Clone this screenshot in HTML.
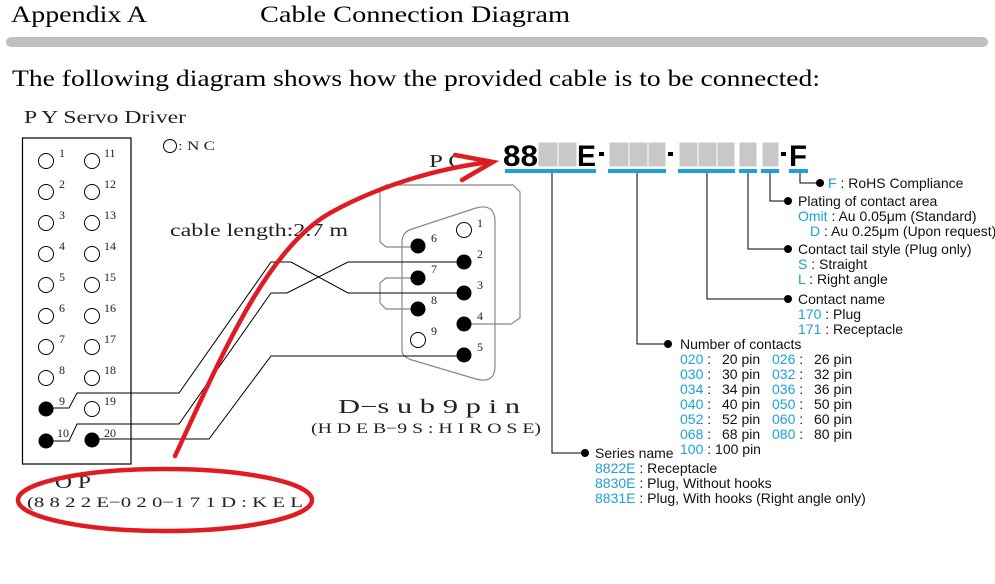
<!DOCTYPE html>
<html><head><meta charset="utf-8"><style>
html,body{margin:0;padding:0;background:#fff;}
svg{display:block;}
.s{font-family:"Liberation Sans",sans-serif;font-size:14px;fill:#111;}
.b{fill:#1ea0da;}
.m{font-family:"Liberation Serif","Noto Serif CJK SC",serif;fill:#222;}
</style></head><body>
<svg width="995" height="584" viewBox="0 0 995 584" xmlns="http://www.w3.org/2000/svg">
<text x="11" y="22" font-family="Liberation Serif,serif" font-size="23" textLength="136" lengthAdjust="spacingAndGlyphs">Appendix A</text>
<text x="260" y="22" font-family="Liberation Serif,serif" font-size="23" textLength="310" lengthAdjust="spacingAndGlyphs">Cable Connection Diagram</text>
<rect x="6" y="37" width="982" height="10" rx="5" fill="#c0c0c0"/>
<text x="12" y="86" font-family="Liberation Serif,serif" font-size="23" textLength="808" lengthAdjust="spacingAndGlyphs">The following diagram shows how the provided cable is to be connected:</text>

<text x="24" y="123" class="m" font-size="18" textLength="162" lengthAdjust="spacingAndGlyphs">P Y  Servo Driver</text>
<rect x="22.5" y="138" width="108.5" height="326" fill="none" stroke="#000" stroke-width="1.2"/>
<g fill="none" stroke="#000" stroke-width="1">
<circle cx="46" cy="161" r="7.5"/><circle cx="92" cy="161" r="7.5"/>
<circle cx="46" cy="192" r="7.5"/><circle cx="92" cy="192" r="7.5"/>
<circle cx="46" cy="223" r="7.5"/><circle cx="92" cy="223" r="7.5"/>
<circle cx="46" cy="254" r="7.5"/><circle cx="92" cy="254" r="7.5"/>
<circle cx="46" cy="285" r="7.5"/><circle cx="92" cy="285" r="7.5"/>
<circle cx="46" cy="316" r="7.5"/><circle cx="92" cy="316" r="7.5"/>
<circle cx="46" cy="347" r="7.5"/><circle cx="92" cy="347" r="7.5"/>
<circle cx="46" cy="378" r="7.5"/><circle cx="92" cy="378" r="7.5"/>
<circle cx="92" cy="409" r="7.5"/>
<circle cx="170" cy="146" r="6.5"/>
</g>
<g fill="#000"><circle cx="46" cy="409" r="7.5"/><circle cx="46" cy="441" r="7.5"/><circle cx="92" cy="440" r="7.5"/></g>
<g class="m" font-size="12">
<text x="59" y="157">1</text><text x="104" y="157">11</text>
<text x="59" y="188">2</text><text x="104" y="188">12</text>
<text x="59" y="219">3</text><text x="104" y="219">13</text>
<text x="59" y="250">4</text><text x="104" y="250">14</text>
<text x="59" y="281">5</text><text x="104" y="281">15</text>
<text x="59" y="312">6</text><text x="104" y="312">16</text>
<text x="59" y="343">7</text><text x="104" y="343">17</text>
<text x="59" y="374">8</text><text x="104" y="374">18</text>
<text x="59" y="405">9</text><text x="104" y="405">19</text>
<text x="57" y="437">10</text><text x="104" y="437">20</text>
</g>
<text x="178" y="150" class="m" font-size="13" textLength="37" lengthAdjust="spacingAndGlyphs">: N C</text>
<text x="170" y="236" class="m" font-size="18" textLength="178" lengthAdjust="spacingAndGlyphs">cable length:2.7 m</text>

<g fill="none" stroke="#888" stroke-width="1.2">
<polyline points="418,247 386,247 380,242 380,190 386,185 513,185 520,192 520,318 511,324 464,324"/>
<polyline points="418,278 386,278 380,283 380,303 386,309 418,309"/>
<path d="M402,350 L402,242 Q402,232 412,229 L476,208 Q495,203 495,222 L495,366 Q495,384 476,379 L412,360 Q402,357 402,350 Z"/>
</g>
<g fill="none" stroke="#000" stroke-width="1">
<polyline points="46,408 69,408 77,393 179,393 271,262 291,262 348,293 464,293"/>
<polyline points="46,441 69,441 77,424 179,424 271,293 287,293 348,262 464,262"/>
<polyline points="92,439 209,439 271,356 464,356"/>
<circle cx="464" cy="230" r="7.5"/><circle cx="418" cy="340" r="7.5"/>
</g>
<g fill="#000">
<circle cx="418" cy="246" r="7.5"/><circle cx="464" cy="262" r="7.5"/><circle cx="418" cy="278" r="7.5"/>
<circle cx="464" cy="293" r="7.5"/><circle cx="418" cy="309" r="7.5"/><circle cx="464" cy="324" r="7.5"/>
<circle cx="464" cy="355" r="7.5"/>
</g>
<g class="m" font-size="12">
<text x="431" y="242">6</text><text x="477" y="227">1</text><text x="477" y="258">2</text>
<text x="431" y="273">7</text><text x="477" y="289">3</text><text x="431" y="304">8</text>
<text x="477" y="320">4</text><text x="431" y="335">9</text><text x="477" y="351">5</text>
</g>
<text x="338" y="413" class="m" font-size="20" textLength="182" lengthAdjust="spacingAndGlyphs">D−s u b  9 p i n</text>
<text x="311" y="433" class="m" font-size="15" textLength="230" lengthAdjust="spacingAndGlyphs">(H D E B−9 S : H I R O S E)</text>
<text x="429" y="167" class="m" font-size="18" textLength="36" lengthAdjust="spacingAndGlyphs">P C</text>

<text x="55" y="488" class="m" font-size="18" textLength="36" lengthAdjust="spacingAndGlyphs">O P</text>
<text x="27" y="507" class="m" font-size="15" textLength="276" lengthAdjust="spacingAndGlyphs">(8 8 2 2 E−0 2 0−1 7 1 D : K E L</text>

<g fill="none" stroke="#e01c22" stroke-width="4.5" stroke-linecap="round">
<ellipse cx="165" cy="500" rx="147" ry="31"/>
<path d="M175,456 C220,360 265,250 330,213 C380,185 440,168 490,162"/>
<polyline points="455,155 493,162 462,180"/>
</g>

<text x="503" y="166" font-family="Liberation Sans,sans-serif" font-weight="bold" font-size="30" textLength="35" lengthAdjust="spacingAndGlyphs">88</text>
<g fill="#c8c8c8" stroke="#fff" stroke-width="1">
<rect x="538" y="142" width="20" height="25"/><rect x="558" y="142" width="19" height="25"/>
<rect x="609" y="142" width="20" height="25"/><rect x="629" y="142" width="19" height="25"/><rect x="648" y="142" width="18" height="25"/>
<rect x="679" y="142" width="19" height="25"/><rect x="698" y="142" width="19" height="25"/><rect x="717" y="142" width="18" height="25"/>
<rect x="739" y="142" width="18" height="25"/><rect x="762" y="142" width="17" height="25"/>
</g>
<text x="577" y="166" font-family="Liberation Sans,sans-serif" font-weight="bold" font-size="30" textLength="19" lengthAdjust="spacingAndGlyphs">E</text>
<text x="789" y="166" font-family="Liberation Sans,sans-serif" font-weight="bold" font-size="30" textLength="18" lengthAdjust="spacingAndGlyphs">F</text>
<g fill="#000"><rect x="599" y="152" width="5" height="4"/><rect x="668" y="152" width="5" height="4"/><rect x="781" y="152" width="5" height="4"/></g>
<g fill="#1ea0da">
<rect x="505" y="169" width="91" height="4"/><rect x="608" y="169" width="58" height="4"/><rect x="678" y="169" width="57" height="4"/>
<rect x="739" y="169" width="18" height="4"/><rect x="761" y="169" width="18" height="4"/><rect x="789" y="169" width="19" height="4"/>
</g>
<g fill="none" stroke="#000" stroke-width="1">
<polyline points="800,173 800,183 820,183"/>
<polyline points="770,173 770,201 788,201"/>
<polyline points="748,173 748,249 788,249"/>
<polyline points="707,173 707,299 788,299"/>
<polyline points="637,173 637,344 668,344"/>
<polyline points="552,173 552,453 585,453"/>
</g>
<g fill="#000">
<circle cx="820" cy="183" r="4"/><circle cx="788" cy="201" r="4"/><circle cx="788" cy="249" r="4"/>
<circle cx="788" cy="299" r="4"/><circle cx="668" cy="344" r="4"/><circle cx="585" cy="453" r="4"/>
</g>
<g class="s">
<text x="828" y="188"><tspan class="b">F</tspan> : RoHS Compliance</text>
<text x="798" y="206">Plating of contact area</text>
<text x="798" y="221"><tspan class="b">Omit</tspan> : Au 0.05μm (Standard)</text>
<text x="810" y="236"><tspan class="b">D</tspan>   : Au 0.25μm (Upon request)</text>
<text x="798" y="254">Contact tail style (Plug only)</text>
<text x="798" y="269"><tspan class="b">S</tspan> : Straight</text>
<text x="798" y="284"><tspan class="b">L</tspan> : Right angle</text>
<text x="798" y="304">Contact name</text>
<text x="798" y="319"><tspan class="b">170</tspan> : Plug</text>
<text x="798" y="334"><tspan class="b">171</tspan> : Receptacle</text>
<text x="680" y="349">Number of contacts</text>
<text x="680" y="364"><tspan class="b">020</tspan> :</text><text x="722" y="364">20 pin</text><text x="772" y="364"><tspan class="b">026</tspan> :</text><text x="814" y="364">26 pin</text>
<text x="680" y="379"><tspan class="b">030</tspan> :</text><text x="722" y="379">30 pin</text><text x="772" y="379"><tspan class="b">032</tspan> :</text><text x="814" y="379">32 pin</text>
<text x="680" y="394"><tspan class="b">034</tspan> :</text><text x="722" y="394">34 pin</text><text x="772" y="394"><tspan class="b">036</tspan> :</text><text x="814" y="394">36 pin</text>
<text x="680" y="409"><tspan class="b">040</tspan> :</text><text x="722" y="409">40 pin</text><text x="772" y="409"><tspan class="b">050</tspan> :</text><text x="814" y="409">50 pin</text>
<text x="680" y="424"><tspan class="b">052</tspan> :</text><text x="722" y="424">52 pin</text><text x="772" y="424"><tspan class="b">060</tspan> :</text><text x="814" y="424">60 pin</text>
<text x="680" y="439"><tspan class="b">068</tspan> :</text><text x="722" y="439">68 pin</text><text x="772" y="439"><tspan class="b">080</tspan> :</text><text x="814" y="439">80 pin</text>
<text x="680" y="454"><tspan class="b">100</tspan> : 100 pin</text>
<text x="595" y="458">Series name</text>
<text x="595" y="473"><tspan class="b">8822E</tspan> : Receptacle</text>
<text x="595" y="488"><tspan class="b">8830E</tspan> : Plug, Without hooks</text>
<text x="595" y="503"><tspan class="b">8831E</tspan> : Plug, With hooks (Right angle only)</text>
</g>
</svg>
</body></html>
